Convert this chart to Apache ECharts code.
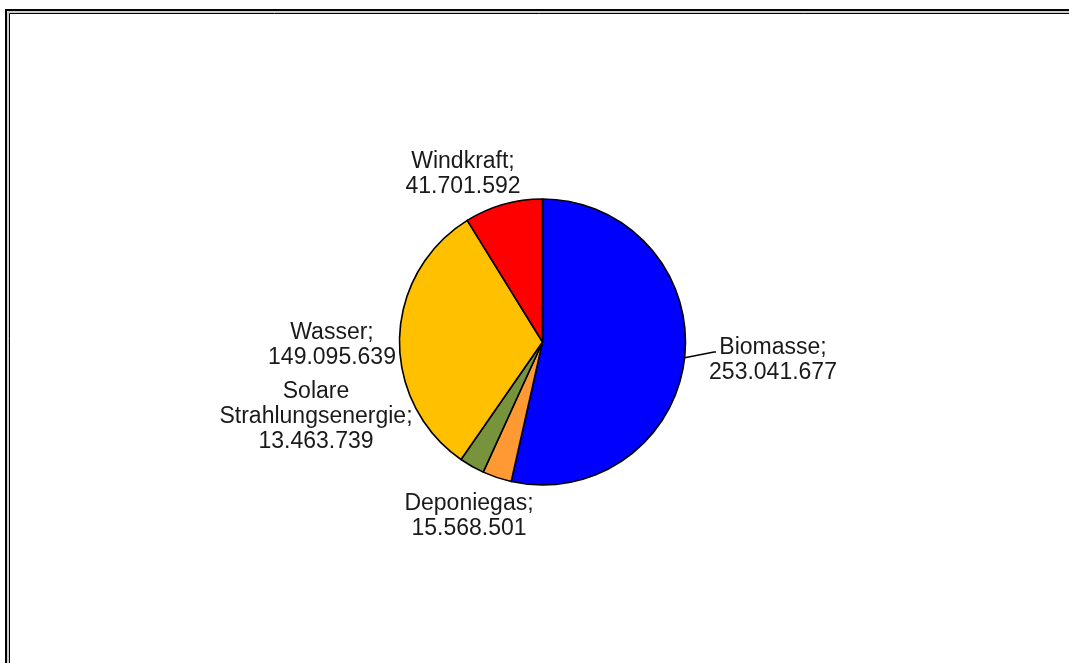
<!DOCTYPE html>
<html>
<head>
<meta charset="utf-8">
<script src="https://cdn.jsdelivr.net/npm/echarts@6/dist/echarts.min.js"></script>
<style>
html,body{margin:0;padding:0;background:#fff;}
#chart{width:1069px;height:663px;}
</style>
</head>
<body>
<div id="chart"></div>
<script>
const categories = ['Biomasse', 'Deponiegas', 'Solare\nStrahlungsenergie', 'Wasser', 'Windkraft'];
const values = [253041677, 15568501, 13463739, 149095639, 41701592];
const colors = ['#0000FF', '#FF9933', '#77933C', '#FFC000', '#FF0000'];
// label anchor centres (text layout only)
const labelPos = {
  'Biomasse': [773, 360],
  'Deponiegas': [469, 516],
  'Solare\nStrahlungsenergie': [316, 417],
  'Wasser': [332, 345],
  'Windkraft': [463, 174]
};

function fmt(v) {
  return String(v).replace(/\B(?=(\d{3})+(?!\d))/g, '.');
}

const chart = echarts.init(document.getElementById('chart'));
chart.setOption({
  backgroundColor: '#ffffff',
  animation: false,
  graphic: [
    { type: 'rect', shape: { x: 6, y: 10, width: 1200, height: 800 }, style: { fill: 'none', stroke: '#000', lineWidth: 2 } },
    { type: 'rect', shape: { x: 8, y: 12, width: 1200, height: 800 }, style: { fill: 'none', stroke: '#bbb', lineWidth: 1.5 } },
    { type: 'rect', shape: { x: 9.5, y: 13.5, width: 1200, height: 800 }, style: { fill: 'none', stroke: '#000', lineWidth: 1 } }
  ],
  series: [{
    type: 'pie',
    center: [542.5, 342],
    radius: [0, 143],
    startAngle: 90,
    clockwise: true,
    avoidLabelOverlap: false,
    itemStyle: { borderColor: '#000', borderWidth: 1.6 },
    label: {
      show: true,
      position: 'outside',
      formatter: p => p.name + ';\n' + fmt(p.value),
      fontFamily: 'Liberation Sans, Arial, sans-serif',
      fontSize: 23,
      lineHeight: 25,
      color: '#1a1a1a',
      align: 'center'
    },
    labelLine: { show: false },
    labelLayout: function (params) {
      const name = categories[params.dataIndex];
      const p = labelPos[name];
      const out = { x: p[0], y: p[1], align: 'center', verticalAlign: 'middle' };
      if (params.dataIndex === 0 && params.labelLinePoints) {
        const s = params.labelLinePoints[0];
        const r = params.labelRect;
        const ex = p[0] - 57;
        const ey = p[1] - 8;
        out.labelLinePoints = [[s[0], s[1]], [ex - 2, ey], [ex, ey]];
      }
      return out;
    },
    data: categories.map((c, i) => ({
      name: c,
      value: values[i],
      itemStyle: { color: colors[i] },
      labelLine: i === 0 ? { show: true, length: 12, length2: 10, lineStyle: { color: '#000', width: 1.5 } } : { show: false }
    }))
  }]
});
</script>
</body>
</html>
